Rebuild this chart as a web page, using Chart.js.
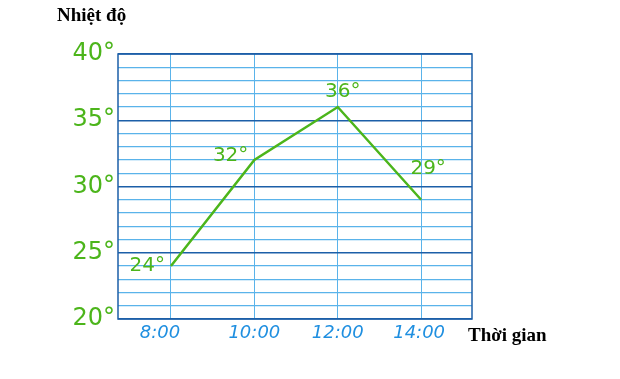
<!DOCTYPE html>
<html>
<head>
<meta charset="utf-8">
<script src="https://cdn.jsdelivr.net/npm/chart.js@4/dist/chart.umd.min.js"></script>
<style>
  html, body { margin: 0; padding: 0; background: #fff; }
  #wrap { width: 620px; height: 379px; position: relative; }
</style>
</head>
<body>
<div id="wrap"><canvas id="tempChart"></canvas></div>
<script>
// Giờ đo và nhiệt độ
const hours = [8, 10, 12, 14];
const hourLabels = ['8:00', '10:00', '12:00', '14:00'];
const temps = [24, 32, 36, 29];
const yTickLabels = ['20°', '25°', '30°', '35°', '40°'];

const GREEN = '#4cb51b';
const MINOR = '#5ab3ea';
const MAJOR = '#1c5fa8';
const XBLUE = '#1f8fe0';

// vị trí nhãn giá trị so với điểm (dx, dy, căn lề)
const labelPlace = [
  { dx: -6, dy: 0, align: 'right' },
  { dx: -6, dy: -4, align: 'right' },
  { dx: 5, dy: -15, align: 'center' },
  { dx: 7, dy: -31, align: 'center' }
];
// lệch ngang của nhãn giờ
const hourShift = [-11, 0, 0, -2];

const extraText = {
  id: 'extraText',
  afterDraw(chart) {
    const ctx = chart.ctx;
    const area = chart.chartArea;
    const meta = chart.getDatasetMeta(0);
    const xs = chart.scales.x;
    ctx.save();
    // nhãn giá trị
    ctx.fillStyle = GREEN;
    ctx.font = '20px "DejaVu Sans"';
    ctx.textBaseline = 'middle';
    meta.data.forEach((pt, i) => {
      const p = labelPlace[i];
      ctx.textAlign = p.align;
      ctx.fillText(temps[i] + '°', pt.x + p.dx, pt.y + p.dy);
    });
    // nhãn giờ
    ctx.fillStyle = XBLUE;
    ctx.font = 'italic 18px "DejaVu Sans"';
    ctx.textAlign = 'center';
    hours.forEach((h, i) => {
      ctx.fillText(hourLabels[i], xs.getPixelForValue(h) + hourShift[i], area.bottom + 14);
    });
    // tiêu đề trục
    ctx.fillStyle = '#000';
    ctx.font = 'bold 19px "Liberation Serif"';
    ctx.textAlign = 'left';
    ctx.fillText('Nhiệt độ', area.left - 61, 16);
    ctx.fillText('Thời gian', area.right - 4, area.bottom + 17);
    // viền khung
    ctx.strokeStyle = MAJOR;
    ctx.lineWidth = 1.5;
    ctx.strokeRect(area.left, area.top, area.right - area.left, area.bottom - area.top);
    ctx.restore();
  }
};

new Chart(document.getElementById('tempChart'), {
  type: 'line',
  data: {
    datasets: [{
      data: hours.map((h, i) => ({ x: h, y: temps[i] })),
      borderColor: GREEN,
      borderWidth: 2.5,
      pointRadius: 0,
      tension: 0
    }]
  },
  options: {
    responsive: true,
    maintainAspectRatio: false,
    animation: false,
    layout: { padding: { top: 54, right: 148, left: 0, bottom: 0 } },
    plugins: { legend: { display: false }, tooltip: { enabled: false } },
    scales: {
      x: {
        type: 'linear',
        min: 6.73,
        max: 15.22,
        afterBuildTicks: (scale) => { scale.ticks = hours.map(v => ({ value: v })); },
        afterFit: (scale) => { scale.height = 60; },
        border: { display: false },
        grid: { color: MINOR, lineWidth: 1, drawTicks: false },
        ticks: { display: false }
      },
      y: {
        min: 20,
        max: 40,
        afterFit: (scale) => { scale.width = 118; },
        border: { display: false },
        grid: {
          drawTicks: false,
          color: (c) => (c.tick.value % 5 === 0 ? MAJOR : MINOR),
          lineWidth: (c) => (c.tick.value % 5 === 0 ? 1.5 : 1.2)
        },
        ticks: {
          stepSize: 1,
          autoSkip: false,
          padding: 3,
          color: GREEN,
          font: { family: 'DejaVu Sans', size: 24 },
          callback: (v) => (v % 5 === 0 ? yTickLabels[(v - 20) / 5] : '')
        }
      }
    }
  },
  plugins: [extraText]
});
</script>
</body>
</html>
